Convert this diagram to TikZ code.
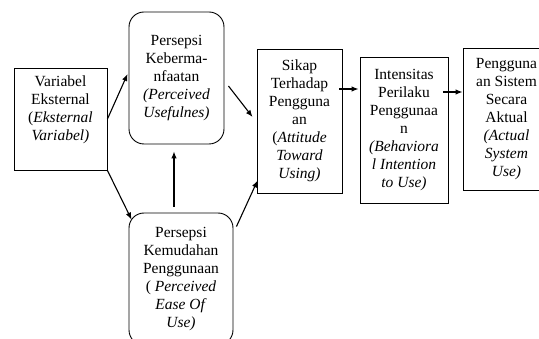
\documentclass[tikz,border=0pt]{standalone}
\usepackage{fontspec}
\setmainfont{Liberation Serif}
\usetikzlibrary{arrows.meta,positioning}

\begin{document}
\begin{tikzpicture}[x=1pt, y=-1pt,
        >={Latex[length=7pt,width=5.5pt]},
        box/.style={draw, line width=0.9pt, align=center, inner sep=0pt, font=\fontsize{15.5}{18}\selectfont},
        roundbox/.style={box, rounded corners=15pt},
        arr/.style={->, line width=1.1pt}]
        \useasboundingbox (0,0) rectangle (539,339);

        % External variable
        \node [box, minimum width=93pt, minimum height=102pt] (ext) at (60.5,119) {Variabel\\Eksternal\\(\textit{Eksternal}\\\textit{Variabel)}\\[4pt]};

        % Perceptions
        \node [roundbox, minimum width=95pt, minimum height=132pt] (useful) at (176.5,78) {Persepsi\\Keberma-\\nfaatan\\\textit{(Perceived}\\\textit{Usefulnes)}};
        \node [roundbox, minimum width=104pt, minimum height=132pt] (ease) at (181,279) {Persepsi\\Kemudahan\\Penggunaan\\( \textit{Perceived}\\\textit{Ease Of}\\\textit{Use)}};

        % Attitude, intention, usage
        \node [box, minimum width=85pt, minimum height=144pt] (attitude) at (299.5,121) {Sikap\\Terhadap\\Pengguna\\an\\(\textit{Attitude}\\\textit{Toward}\\\textit{Using)}};
        \node [box, minimum width=88pt, minimum height=146pt] (intention) at (404,130) {Intensitas\\Perilaku\\Penggunaa\\n\\\textit{(Behaviora}\\\textit{l Intention}\\\textit{to Use)}};
        \node [box, minimum width=87pt, minimum height=142pt] (usage) at (506.5,119) {Pengguna\\an Sistem\\Secara\\Aktual\\\textit{(Actual}\\\textit{System}\\\textit{Use)}};

        % Arrows
        \draw [arr] (ext.east) -- ([shift={(-1,-4)}]useful.west);
        \draw [arr] (ext.south east) -- ([shift={(3,7)}]ease.north west);
        \draw [arr, shorten <=6pt, shorten >=7pt] ([xshift=-2.5pt]useful.south |- ease.north) -- ([xshift=-2.5pt]useful.south);
        \draw [arr] ([shift={(4,8)}]useful.east) -- ([shift={(-4,-4)}]attitude.west);
        \draw [arr] ([shift={(3,14)}]ease.north east) -- ([shift={(1,-13)}]attitude.south west);
        \draw [arr] ([shift={(-3,-32)}]attitude.east) -- ([shift={(-1,-41)}]intention.west);
        \draw [arr] ([shift={(-5,-38)}]intention.east) -- ([shift={(0,-27)}]usage.west);
    \end{tikzpicture}
\end{document}
